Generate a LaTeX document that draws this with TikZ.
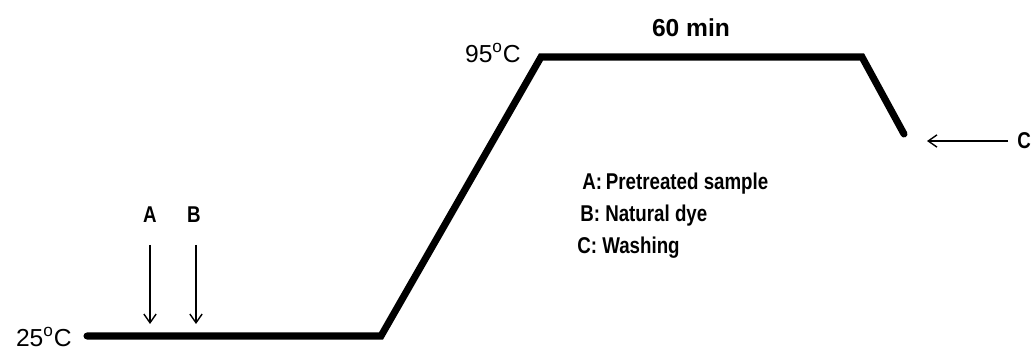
\documentclass[tikz,border=0pt]{standalone}
\usepackage{fontspec}
\setmainfont{Liberation Sans}
\newfontfamily\narrowsans[FakeStretch=0.82]{Liberation Sans}
\usetikzlibrary{arrows,arrows.meta,positioning}
\tikzset{
  profile/.style={line width=4pt, line cap=round, line join=miter},
  addarrow/.style={-{Straight Barb[length=5pt,width=7pt]}, line width=0.8pt},
  tlabel/.style={font=\fontsize{14}{16}\selectfont, inner sep=0pt},
  blabel/.style={font=\narrowsans\fontsize{13}{15}\selectfont\bfseries, inner sep=0pt},
}

\begin{document}
\begin{tikzpicture}[x=0.02cm,y=-0.02cm]
        \useasboundingbox (0,0) rectangle (1035,351);
        \coordinate (P1) at (87,336);
        \coordinate (P2) at (381,336);
        \coordinate (P3) at (541,57);
        \coordinate (P4) at (862,57);
        \coordinate (P5) at (904,134);

        \draw[profile] (P1)--(P2)--(P3)--(P4)--(P5);

        \node[tlabel,anchor=east] (Tlow) at (72,337) {25\textsuperscript{o}C};
        \node[tlabel,anchor=east] (Thigh) at (521,53) {95\textsuperscript{o}C};
        \node[tlabel,font=\fontsize{14}{16}\selectfont\bfseries] (time) at (691,28) {60 min};

        % addition of sample and dye
        \node[blabel] (A) at (150,215) {A};
        \node[blabel] (B) at (194,215) {B};
        \coordinate (Atop) at (150,245);  \coordinate (Abot) at (150,324);
        \coordinate (Btop) at (196,245);  \coordinate (Bbot) at (196,324);
        \draw[addarrow] (Atop)--(Abot);
        \draw[addarrow] (Btop)--(Bbot);

        % washing
        \node[blabel,anchor=west] (C) at (1017,141) {C};
        \coordinate (Cstart) at (1008,141);  \coordinate (Cend) at (927,141);
        \draw[addarrow] (Cstart)--(Cend);

        \node[blabel,anchor=west] (keyA) at (582,184) {A:\,Pretreated sample};
        \node[blabel,anchor=west] (keyB) at (580,216) {B: Natural dye};
        \node[blabel,anchor=west] (keyC) at (577,248) {C: Washing};
    \end{tikzpicture}
\end{document}
